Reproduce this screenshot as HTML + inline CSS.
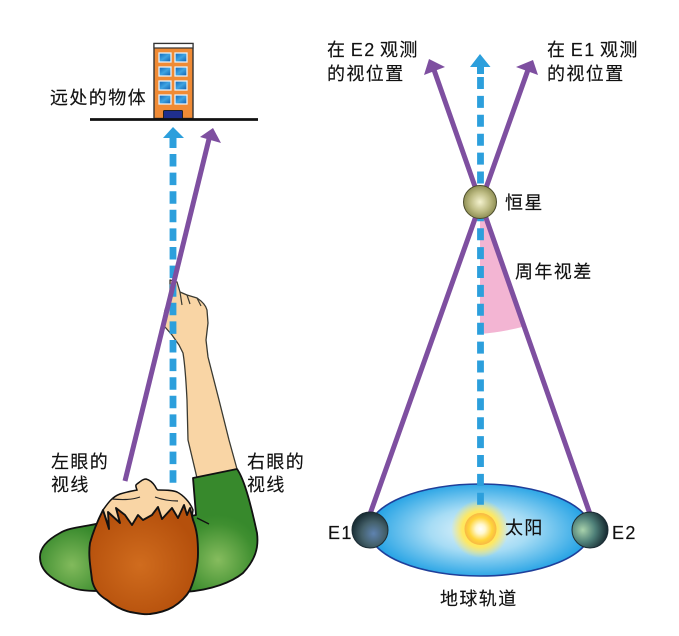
<!DOCTYPE html>
<html><head><meta charset="utf-8">
<style>
html,body{margin:0;padding:0;background:#fff;width:679px;height:636px;overflow:hidden}
svg{display:block}
text{font-family:"Liberation Sans","Noto Sans CJK SC",sans-serif;font-size:18px;fill:#111;letter-spacing:1.4px;word-spacing:-2px;stroke:#111;stroke-width:.15px}
</style></head><body>
<svg width="679" height="636" viewBox="0 0 679 636" xmlns="http://www.w3.org/2000/svg">
<defs>
<radialGradient id="gl" gradientUnits="userSpaceOnUse" cx="72" cy="565" r="40"><stop offset="0" stop-color="#82ba5c"/><stop offset="1" stop-color="#37892c"/></radialGradient>
<radialGradient id="gr" gradientUnits="userSpaceOnUse" cx="218" cy="560" r="45"><stop offset="0" stop-color="#86bc5e"/><stop offset=".8" stop-color="#3f8f30"/><stop offset="1" stop-color="#37892c"/></radialGradient>
<radialGradient id="hair" gradientUnits="userSpaceOnUse" cx="140" cy="565" r="58"><stop offset="0" stop-color="#d06c1e"/><stop offset="1" stop-color="#b5500c"/></radialGradient>
<radialGradient id="orb" gradientUnits="userSpaceOnUse" cx="480" cy="530" r="112" gradientTransform="translate(480 530) scale(1 .44) translate(-480 -530)"><stop offset="0" stop-color="#eaf6fb"/><stop offset=".45" stop-color="#a6dcf5"/><stop offset="1" stop-color="#1fa0e4"/></radialGradient>
<radialGradient id="glow" cx=".5" cy=".5" r=".5"><stop offset="0" stop-color="#ffe03a"/><stop offset=".62" stop-color="#ffe860"/><stop offset="1" stop-color="#ffe860" stop-opacity="0"/></radialGradient>
<radialGradient id="sun" cx=".5" cy=".5" r=".5"><stop offset="0" stop-color="#fff"/><stop offset=".3" stop-color="#fff8d0"/><stop offset=".72" stop-color="#ffd53a"/><stop offset="1" stop-color="#f8b845"/></radialGradient>
<radialGradient id="star" cx=".5" cy=".5" r=".5"><stop offset="0" stop-color="#f4f2cf"/><stop offset=".6" stop-color="#bdbb83"/><stop offset="1" stop-color="#8f8f55"/></radialGradient>
<radialGradient id="e1" cx=".6" cy=".6" r=".6"><stop offset="0" stop-color="#5f83b0"/><stop offset=".55" stop-color="#44606a"/><stop offset="1" stop-color="#1a2f36"/></radialGradient>
<radialGradient id="e2" cx=".3" cy=".5" r=".7"><stop offset="0" stop-color="#a8d2ac"/><stop offset=".5" stop-color="#4e7f78"/><stop offset="1" stop-color="#14262e"/></radialGradient>
<linearGradient id="win" x1="0" y1="0" x2="1" y2="1"><stop offset="0" stop-color="#0f64b8"/><stop offset=".5" stop-color="#3fa4e2"/><stop offset="1" stop-color="#0f5cae"/></linearGradient>
</defs>

<!-- building -->
<rect x="154" y="43.5" width="39" height="75" fill="#f08b35" stroke="#333" stroke-width="1.400"/>
<rect x="154" y="43.5" width="39" height="4.500" fill="#fff" stroke="#333" stroke-width="1.200"/>
<g fill="url(#win)" stroke="#e8eff5" stroke-width="1.300">
<rect x="159" y="53" width="12" height="9"/><rect x="175" y="53" width="12" height="9"/>
<rect x="159" y="67" width="12" height="9"/><rect x="175" y="67" width="12" height="9"/>
<rect x="159" y="81" width="12" height="9"/><rect x="175" y="81" width="12" height="9"/>
<rect x="159" y="95" width="12" height="9"/><rect x="175" y="95" width="12" height="9"/>
</g>
<rect x="163.500" y="110.500" width="19" height="9" rx="1" fill="#1f2f8e" stroke="#222" stroke-width="1"/>
<line x1="90" y1="119.500" x2="258" y2="119.500" stroke="#111" stroke-width="2.800"/>
<text x="50" y="104">远处的物体</text>

<!-- person -->
<path d="M187 400C186 380 185 365 183 353L179 345L172 335L165 327C163 320 164 314 165 310L170 297L170 280L177 282L180 292L187 295L197 298C203 302 206 306 207 310L208 323L206 340L208 357L219 400L229 440L237 469L197 478L188 440Z" fill="#f9d5a5" stroke="#3a3a32" stroke-width="1.300" stroke-linejoin="round"/>
<path d="M180 292l2 13M187 295l3 9M197 298l4 8" fill="none" stroke="#3a3a32" stroke-width="1.200"/>
<path d="M100 523C85 527 70 527 60 533C47 540 40 548 40 557C40 570 50 578 65 585C75 590 85 591 100 591Z" fill="url(#gl)" stroke="#111" stroke-width="1.800"/>
<path d="M193 478L237 469C245 480 252 510 257 533C259 548 255 560 243 573C232 582 212 590 185 592L170 520L196 515Z" fill="url(#gr)" stroke="#111" stroke-width="1.800" stroke-linejoin="round"/>
<path d="M103 510C108 503 112 497 120 494C126 492 132 491 137 490C136 487 135 485 137 484C141 481 143 479 146 479C150 480 153 483 155 486C156 488 157 490 158 490C165 490 172 490 177 492C183 495 190 502 193 510L190 530L110 530Z" fill="#f9d5a5" stroke="#111" stroke-width="1.500"/>
<path d="M112 499C122 500 132 500 140 497M155 497C163 500 172 501 178 501" fill="none" stroke="#222" stroke-width="1.200"/>
<path d="M103 510C98 520 93 532 90 543C88 556 91 570 92 580C94 590 100 596 107 600C114 606 122 610 130 612C137 613 144 615 150 614C158 613 166 611 173 607C181 602 186 597 190 590C195 578 198 565 198 553C198 540 197 530 193 520L190 508L187 515L184 505L178 518L172 508L162 519L158 507L152 515L143 520L138 515L132 525L125 515L116 508L120 523L108 512L109 529Z" fill="url(#hair)" stroke="#111" stroke-width="1.900" stroke-linejoin="round"/>
<path d="M197 518l12 6" stroke="#111" stroke-width="1.400"/>

<!-- left arrows -->
<line x1="173" y1="154" x2="173" y2="483" stroke="#2c9fdc" stroke-width="6.800" stroke-dasharray="12.500 6.100"/>
<path d="M173 127L184 138H176.500V148H169.500V138H163Z" fill="#2c9fdc"/>
<line x1="125" y1="481" x2="209" y2="139" stroke="#7e4fa0" stroke-width="5"/>
<path d="M213 128L221 143L200 137Z" fill="#7e4fa0"/>
<text x="51" y="468">左眼的</text>
<text x="51" y="491">视线</text>
<text x="247" y="468">右眼的</text>
<text x="247" y="491">视线</text>

<!-- right diagram -->
<path d="M480 205L480 334Q503 332 522 327Z" fill="#f3b5d3"/>
<ellipse cx="480" cy="530" rx="111" ry="46" fill="url(#orb)" stroke="#1f3f9a" stroke-width="1.600"/>
<circle cx="480" cy="529" r="29" fill="url(#glow)"/>
<circle cx="480.500" cy="529" r="16" fill="url(#sun)"/>
<line x1="480.500" y1="77" x2="480.500" y2="506" stroke="#2c9fdc" stroke-width="6.800" stroke-dasharray="12 6.900"/>
<path d="M480 54L490.500 67H484V74H477V67H470Z" fill="#2c9fdc"/>
<line x1="370" y1="514" x2="529" y2="67" stroke="#7e4fa0" stroke-width="5"/>
<line x1="590" y1="514" x2="433" y2="67" stroke="#7e4fa0" stroke-width="5"/>
<path d="M533 60L538 75L516 67Z" fill="#7e4fa0"/>
<path d="M429 59L445 67L424 75Z" fill="#7e4fa0"/>
<circle cx="480" cy="202" r="16.500" fill="url(#star)" stroke="#4c4c2c" stroke-width="1"/>
<circle cx="370" cy="530" r="18" fill="url(#e1)" stroke="#1c2c34" stroke-width="1"/>
<circle cx="590" cy="530" r="18" fill="url(#e2)" stroke="#1c2c34" stroke-width="1"/>

<text x="327" y="56">在 E2 观测</text>
<text x="327" y="80">的视位置</text>
<text x="547" y="56">在 E1 观测</text>
<text x="547" y="80">的视位置</text>
<text x="505" y="209">恒星</text>
<text x="515" y="278">周年视差</text>
<text x="328" y="539">E1</text>
<text x="612" y="539">E2</text>
<text x="505" y="534">太阳</text>
<text x="440" y="605">地球轨道</text>
</svg>
</body></html>
